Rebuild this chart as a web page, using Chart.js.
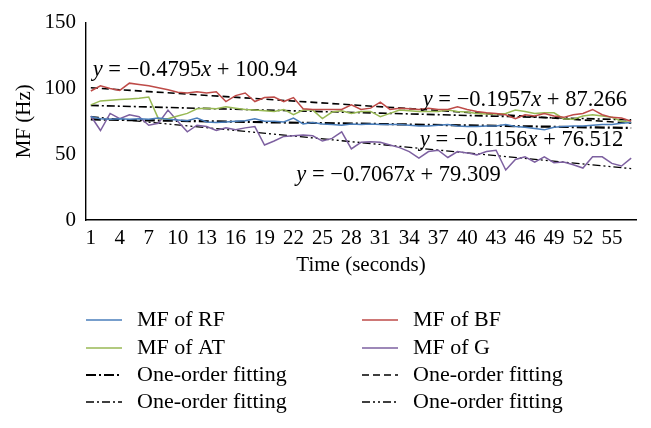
<!DOCTYPE html>
<html>
<head>
<meta charset="utf-8">
<script src="https://cdn.jsdelivr.net/npm/chart.js@4.4.0/dist/chart.umd.min.js"></script>
<style>
  html, body { margin: 0; padding: 0; background: #fff; }
</style>
</head>
<body>
<canvas id="mf-chart" width="651" height="428"></canvas>
<script>
// time in seconds (categories)
const seconds = [1, 2, 3, 4, 5, 6, 7, 8, 9, 10, 11, 12, 13, 14, 15, 16, 17, 18, 19, 20,
  21, 22, 23, 24, 25, 26, 27, 28, 29, 30, 31, 32, 33, 34, 35, 36, 37, 38, 39, 40,
  41, 42, 43, 44, 45, 46, 47, 48, 49, 50, 51, 52, 53, 54, 55, 56, 57];
const xTickLabels = [1, 4, 7, 10, 13, 16, 19, 22, 25, 28, 31, 34, 37, 40, 43, 46, 49, 52, 55];
const yTickLabels = [0, 50, 100, 150];

// median frequency (Hz)
const mfRF = [78.5, 77, 76.5, 77, 76.5, 77, 76.5, 77.5, 76.5, 76, 75.5, 77.5, 74.5, 74, 74.5, 75, 75.5, 77, 75, 75,
  74.5, 77.5, 73, 74, 73, 72.5, 72, 73, 72.5, 73, 72.5, 72.5, 72.5, 72, 71.5, 71.5, 72, 72.5, 71.5, 71,
  71, 71.5, 71.5, 72.5, 71, 70.5, 69.5, 68.5, 70.5, 71, 71.5, 71.5, 72, 72.5, 72.5, 73.5, 74];
const mfBF = [98, 102, 100, 98.5, 104, 103, 102, 100.5, 99, 97, 96.5, 97.5, 96.5, 97.5, 90, 94.5, 96.5, 90, 93, 93.5,
  90, 93, 84.5, 84, 84, 84, 84, 87.5, 84, 85, 89.5, 84, 85, 84.5, 84, 85, 84, 84, 86, 84,
  82.5, 81.5, 81, 80, 77, 80, 79, 81, 79, 78, 80, 81, 84, 80, 78, 77.5, 75];
const mfAT = [87.5, 90.5, 91, 91.5, 92, 92.5, 93.5, 77, 77, 79, 81, 84.5, 85, 84.5, 86, 85, 84, 83.5, 83, 82.5,
  84, 80, 83.5, 83.5, 77, 82, 83, 81, 82.5, 82.5, 78.5, 81, 83.5, 83, 82.5, 82.5, 82.5, 83.5, 82.5, 82,
  81, 80.5, 80.5, 81, 83.5, 82.5, 81, 81.5, 81.5, 77, 76.5, 79, 80, 79, 78, 75, 74];
const mfG = [79, 68, 81, 77, 80, 78.5, 72, 73.5, 83.5, 75, 67, 72, 71, 68, 70, 68.5, 70, 71, 57, 60,
  63.5, 64, 64.5, 64, 60, 62, 67, 54, 59, 59.5, 59, 57, 55, 52, 47, 52, 53, 47.5, 52, 51,
  49.5, 52, 53, 38, 46, 48, 44, 48, 43.5, 44, 42, 39.5, 48, 48, 43, 41, 47];

// one-order fittings as printed on the chart: [slope, intercept]
const fitRF = [-0.1156, 76.512];
const fitBF = [-0.4795, 100.94];
const fitAT = [-0.1957, 87.266];
const fitG = [-0.7067, 79.309];

const seriesNames = ['MF of RF', 'MF of BF', 'MF of AT', 'MF of G',
  'One-order fitting', 'One-order fitting', 'One-order fitting', 'One-order fitting'];

const serif = "'Liberation Serif', 'DejaVu Serif', serif";

function points(values) {
  return seconds.map((s, i) => ({ x: s, y: values[i] }));
}
function fitLine(fit) {
  const a = seconds[0], b = seconds[seconds.length - 1];
  return [{ x: a, y: fit[0] * a + fit[1] }, { x: b, y: fit[0] * b + fit[1] }];
}
function eqParts(fit) {
  return [
    ['y', true],
    [' = \u2212' + Math.abs(fit[0]).toFixed(4), false],
    ['x', true],
    [' + ' + fit[1], false]
  ];
}

// equation text boxes, anchored in data units (left edge, middle)
const equations = [
  { parts: eqParts(fitBF), x: 1.2, y: 114 },
  { parts: eqParts(fitAT), x: 35.4, y: 91 },
  { parts: eqParts(fitRF), x: 35.1, y: 61 },
  { parts: eqParts(fitG), x: 22.3, y: 34.5 }
];

const equationPlugin = {
  id: 'equations',
  afterDatasetsDraw(chart) {
    const ctx = chart.ctx;
    const xs = chart.scales.x, ys = chart.scales.y;
    ctx.save();
    ctx.fillStyle = '#000';
    ctx.textBaseline = 'middle';
    ctx.textAlign = 'left';
    equations.forEach(eq => {
      let px = xs.getPixelForValue(eq.x);
      const py = ys.getPixelForValue(eq.y);
      eq.parts.forEach(([txt, it]) => {
        ctx.font = (it ? 'italic ' : '') + '22.5px ' + serif;
        ctx.fillText(txt, px, py);
        px += ctx.measureText(txt).width;
      });
    });
    ctx.restore();
  }
};

const legendPlugin = {
  id: 'mfLegend',
  afterDraw(chart) {
    const ctx = chart.ctx;
    const rows = [320, 348, 375, 402];
    const cols = [86, 362];
    ctx.save();
    ctx.font = '22px ' + serif;
    ctx.textBaseline = 'middle';
    ctx.fillStyle = '#000';
    chart.data.datasets.forEach((ds, i) => {
      const x = cols[i % 2];
      const y = rows[Math.floor(i / 2)];
      ctx.beginPath();
      ctx.strokeStyle = ds.borderColor;
      ctx.lineWidth = ds.borderWidth;
      ctx.setLineDash(ds.borderDash || []);
      ctx.moveTo(x, y);
      ctx.lineTo(x + 36, y);
      ctx.stroke();
      ctx.setLineDash([]);
      ctx.fillText(ds.label, x + 51, y);
    });
    ctx.restore();
  }
};

const tickFont = { family: serif, size: 21 };

new Chart(document.getElementById('mf-chart'), {
  type: 'line',
  data: {
    datasets: [
      { label: seriesNames[0], data: points(mfRF), borderColor: '#4a7ebb', borderWidth: 1.5 },
      { label: seriesNames[1], data: points(mfBF), borderColor: '#be4b48', borderWidth: 1.5 },
      { label: seriesNames[2], data: points(mfAT), borderColor: '#98b954', borderWidth: 1.5 },
      { label: seriesNames[3], data: points(mfG), borderColor: '#7d60a0', borderWidth: 1.5 },
      { label: seriesNames[4], data: fitLine(fitRF), borderColor: '#000', borderWidth: 2.2, borderDash: [10, 3, 2, 3] },
      { label: seriesNames[5], data: fitLine(fitBF), borderColor: '#000', borderWidth: 1.6, borderDash: [7, 4] },
      { label: seriesNames[6], data: fitLine(fitAT), borderColor: '#000', borderWidth: 1.6, borderDash: [8, 3, 2, 3] },
      { label: seriesNames[7], data: fitLine(fitG), borderColor: '#000', borderWidth: 1.3, borderDash: [8, 3, 2, 3, 2, 3] }
    ]
  },
  options: {
    responsive: false,
    animation: false,
    layout: { padding: { left: 0, right: 15, top: 22, bottom: 148 } },
    elements: { point: { radius: 0 }, line: { tension: 0, fill: false } },
    plugins: { legend: { display: false }, tooltip: { enabled: false } },
    scales: {
      x: {
        type: 'linear',
        min: 0.5,
        max: seconds.length + 0.5,
        afterBuildTicks: s => { s.ticks = xTickLabels.map(v => ({ value: v })); },
        afterFit: s => { s.height = 60; },
        grid: { display: false, drawTicks: false },
        border: { display: true, color: '#000', width: 1.4 },
        ticks: { color: '#000', font: tickFont, padding: 6, maxRotation: 0, autoSkip: false },
        title: { display: true, text: 'Time (seconds)', color: '#000', font: tickFont, padding: { top: 0, bottom: 2 } }
      },
      y: {
        min: 0,
        max: 150,
        afterBuildTicks: s => { s.ticks = yTickLabels.map(v => ({ value: v })); },
        afterFit: s => { s.width = 86; },
        grid: { display: false, drawTicks: false },
        border: { display: true, color: '#000', width: 1.4 },
        ticks: { color: '#000', font: tickFont, padding: 10 },
        title: { display: true, text: 'MF (Hz)', color: '#000', font: tickFont, padding: { top: 12, bottom: 0 } }
      }
    }
  },
  plugins: [equationPlugin, legendPlugin]
});
</script>
</body>
</html>
